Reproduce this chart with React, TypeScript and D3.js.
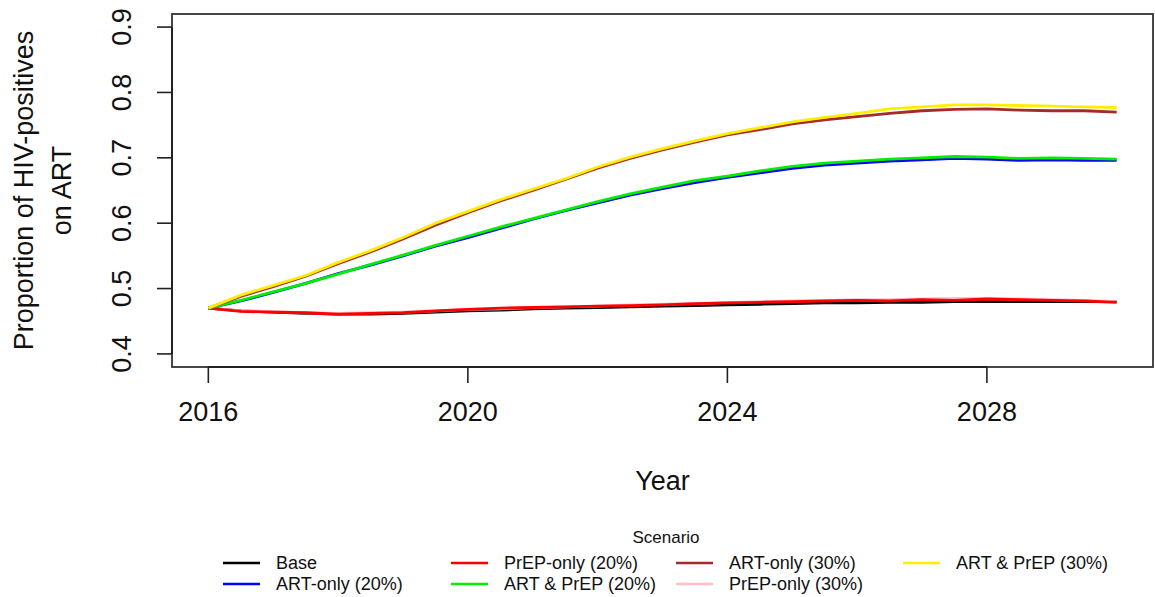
import React from "react";
import * as d3 from "d3";

const years: number[] = [
  2016, 2016.5, 2017, 2017.5, 2018, 2018.5, 2019, 2019.5, 2020, 2020.5, 2021, 2021.5, 2022, 2022.5,
  2023, 2023.5, 2024, 2024.5, 2025, 2025.5, 2026, 2026.5, 2027, 2027.5, 2028, 2028.5, 2029, 2029.5, 2030,
];

const base: number[] = [0.470, 0.466, 0.464, 0.462, 0.461, 0.461, 0.462, 0.464, 0.466, 0.467, 0.469, 0.470, 0.471, 0.472, 0.473, 0.474, 0.475, 0.476, 0.477, 0.478, 0.478, 0.479, 0.479, 0.480, 0.480, 0.480, 0.480, 0.480, 0.480];
const artOnly20: number[] = [0.470, 0.481, 0.494, 0.508, 0.523, 0.536, 0.550, 0.565, 0.578, 0.592, 0.606, 0.619, 0.631, 0.643, 0.653, 0.662, 0.670, 0.677, 0.684, 0.689, 0.692, 0.695, 0.697, 0.699, 0.698, 0.696, 0.697, 0.696, 0.696];
const prepOnly20: number[] = [0.470, 0.465, 0.464, 0.463, 0.461, 0.462, 0.463, 0.466, 0.468, 0.470, 0.471, 0.472, 0.473, 0.474, 0.475, 0.477, 0.478, 0.479, 0.480, 0.481, 0.482, 0.481, 0.483, 0.482, 0.484, 0.483, 0.482, 0.481, 0.479];
const artPrep20: number[] = [0.470, 0.482, 0.495, 0.508, 0.522, 0.537, 0.551, 0.566, 0.580, 0.594, 0.607, 0.620, 0.633, 0.645, 0.655, 0.665, 0.672, 0.680, 0.687, 0.692, 0.695, 0.698, 0.700, 0.702, 0.701, 0.699, 0.700, 0.699, 0.698];
const artOnly30: number[] = [0.470, 0.488, 0.503, 0.519, 0.538, 0.556, 0.576, 0.597, 0.616, 0.634, 0.650, 0.667, 0.684, 0.699, 0.712, 0.724, 0.735, 0.743, 0.752, 0.758, 0.763, 0.768, 0.772, 0.774, 0.775, 0.773, 0.772, 0.772, 0.770];
const prepOnly30: number[] = [0.470, 0.466, 0.465, 0.463, 0.462, 0.463, 0.464, 0.466, 0.468, 0.469, 0.471, 0.472, 0.473, 0.475, 0.476, 0.477, 0.479, 0.480, 0.481, 0.482, 0.483, 0.483, 0.484, 0.485, 0.485, 0.484, 0.483, 0.482, 0.480];
const artPrep30: number[] = [0.470, 0.490, 0.505, 0.520, 0.540, 0.558, 0.578, 0.600, 0.618, 0.636, 0.652, 0.668, 0.686, 0.701, 0.714, 0.726, 0.737, 0.746, 0.755, 0.762, 0.768, 0.775, 0.778, 0.781, 0.781, 0.780, 0.779, 0.778, 0.777];

const scenarioNames: string[] = [
  "Base", "ART-only (20%)", "PrEP-only (20%)", "ART & PrEP (20%)",
  "ART-only (30%)", "PrEP-only (30%)", "ART & PrEP (30%)",
];
const scenarioColors: string[] = ["#000000", "#0000ff", "#ff0000", "#00ee00", "#a52a2a", "#ffc0cb", "#ffee00"];
const scenarioValues: number[][] = [base, artOnly20, prepOnly20, artPrep20, artOnly30, prepOnly30, artPrep30];
const drawOrder: number[] = [0, 5, 1, 2, 3, 4, 6];

const xTicks: number[] = [2016, 2020, 2024, 2028];
const yTicks: number[] = [0.4, 0.5, 0.6, 0.7, 0.8, 0.9];

const W = 1155;
const H = 597;
const box = { left: 172, right: 1153, top: 14, bottom: 367 };
const FONT = "'Liberation Sans', Arial, Helvetica, sans-serif";

export default function App() {
  const x = d3.scaleLinear().domain([2015.44, 2030.56]).range([box.left, box.right]);
  const y = d3.scaleLinear().domain([0.38, 0.92]).range([box.bottom, box.top]);
  const line = d3.line<[number, number]>().x((d) => x(d[0])).y((d) => y(d[1]));

  const legendCols = [223, 451, 676, 903];
  const legendRows = [563, 584];

  return (
    <svg width={W} height={H} style={{ position: "absolute", left: 0, top: 0, display: "block", background: "#fff" }} fontFamily={FONT}>
      <rect x={0} y={0} width={W} height={H} fill="#fff" />
      {drawOrder.map((i) => (
        <path
          key={scenarioNames[i]}
          d={line(years.map((t, k) => [t, scenarioValues[i][k]]) as [number, number][]) || ""}
          fill="none"
          stroke={scenarioColors[i]}
          strokeWidth={2.8}
          strokeLinejoin="round"
        />
      ))}
      <rect x={box.left} y={box.top} width={box.right - box.left} height={box.bottom - box.top} fill="none" stroke="#333" strokeWidth={1.8} />
      <line x1={x(xTicks[0])} x2={x(xTicks[xTicks.length - 1])} y1={box.bottom} y2={box.bottom} stroke="#222" strokeWidth={2} />
      {xTicks.map((t) => (
        <g key={t}>
          <line x1={x(t)} x2={x(t)} y1={box.bottom} y2={box.bottom + 16} stroke="#222" strokeWidth={1.6} />
          <text x={x(t)} y={421} textAnchor="middle" fontSize={27} fill="#111">{t}</text>
        </g>
      ))}
      <text x={(box.left + box.right) / 2} y={490} textAnchor="middle" fontSize={27} fill="#111">Year</text>
      <line x1={box.left} x2={box.left} y1={y(yTicks[0])} y2={y(yTicks[yTicks.length - 1])} stroke="#222" strokeWidth={2} />
      {yTicks.map((v) => (
        <g key={v}>
          <line x1={box.left - 15} x2={box.left} y1={y(v)} y2={y(v)} stroke="#222" strokeWidth={1.6} />
          <text transform={`translate(131,${y(v)}) rotate(-90)`} textAnchor="middle" fontSize={27} fill="#111">{v.toFixed(1)}</text>
        </g>
      ))}
      <text transform={`translate(33,${(box.top + box.bottom) / 2}) rotate(-90)`} textAnchor="middle" fontSize={27} fill="#111">Proportion of HIV-positives</text>
      <text transform={`translate(71,${(box.top + box.bottom) / 2}) rotate(-90)`} textAnchor="middle" fontSize={27} fill="#111">on ART</text>
      <text x={666} y={543} textAnchor="middle" fontSize={17} fill="#111">Scenario</text>
      {scenarioNames.map((name, i) => {
        const col = Math.floor(i / 2);
        const row = i % 2;
        const lx = legendCols[col];
        const ly = legendRows[row];
        return (
          <g key={name}>
            <line x1={lx} x2={lx + 37} y1={ly} y2={ly} stroke={scenarioColors[i]} strokeWidth={2.6} />
            <text x={lx + 53} y={ly + 6} fontSize={18} fill="#111">{name}</text>
          </g>
        );
      })}
    </svg>
  );
}
